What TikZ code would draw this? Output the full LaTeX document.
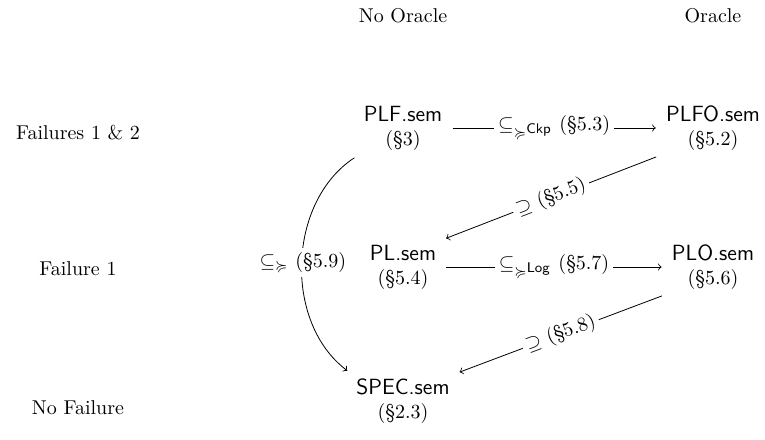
\documentclass[tikz,border=0pt]{standalone}
\usepackage{amssymb,amsmath}
\usetikzlibrary{positioning,calc}

\newcommand{\semfile}[1]{{\fontsize{11}{13}\selectfont\sffamily #1.sem}}
\newcommand{\subrel}[1]{\subseteq_{\succcurlyeq^{\text{\scriptsize\sffamily #1}}}}

\begin{document}
\begin{tikzpicture}[x=0.5pt, y=-0.5pt]
  \tikzset{align=center}
  \tikzset{sem/.style = {align=center, inner sep=2pt}}
  \tikzset{lbl/.style = {fill=white, inner sep=2pt}}
  \useasboundingbox (0,0) rectangle (765,439);

  % column and row headings
  \node (noorc) at (403,16) {No Oracle};
  \node (orc) at (713,16) {Oracle};
  \node (fail12) at (78,133) {Failures 1 \& 2};
  \node (fail1) at (78,269) {Failure 1};
  \node (nofail) at (78,408) {No Failure};

  \node[sem] (plf) at (403,128) {\semfile{PLF}\\(\S3)};
  \node[sem] (plfo) at (713,128) {\semfile{PLFO}\\(\S5.2)};
  \node[sem] (pl) at (403,267) {\semfile{PL}\\(\S5.4)};
  \node[sem] (plo) at (713,267) {\semfile{PLO}\\(\S5.6)};
  \node[sem] (spec) at (403,401) {\semfile{SPEC}\\(\S2.3)};

  \path[every edge/.style={draw=black, ->, shorten >=3pt, shorten <=3pt}]
  (plf) edge node[lbl] {$\subrel{Ckp}$ (\S5.3)} (plfo)
  (pl) edge node[lbl] {$\subrel{Log}$ (\S5.7)} (plo)
  (plfo.south west) edge node[lbl, sloped] {$\supseteq$ (\S5.5)} (pl.north east)
  (plo.south west) edge node[lbl, sloped] {$\supseteq$ (\S5.8)} (spec.north east)
  (plf.south west) edge[bend right=55] node[lbl] {$\subseteq_{\succcurlyeq}$ (\S5.9)} (spec.north west)
  ;
\end{tikzpicture}
\end{document}
